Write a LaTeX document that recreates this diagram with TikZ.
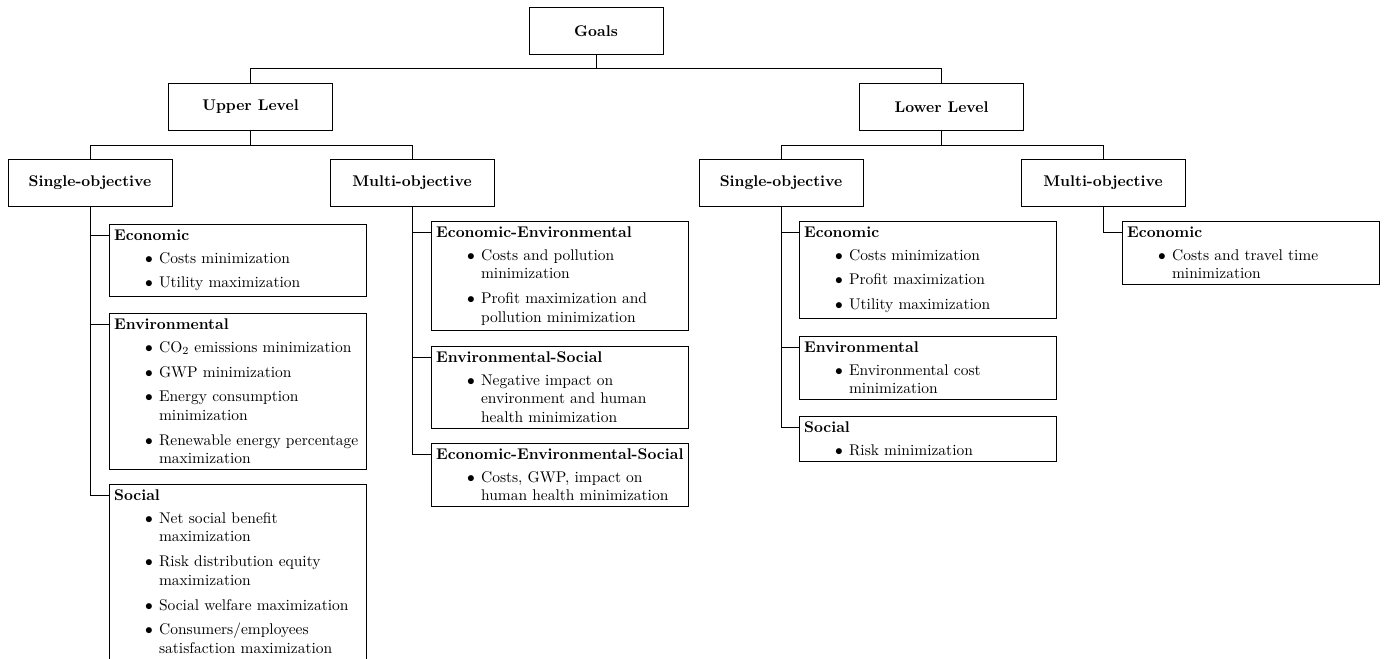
\documentclass[tikz,border=0pt]{standalone}
\usepackage{enumitem}
\usetikzlibrary{calc}
\newcommand{\leafcontent}[2]{\mbox{\textbf{#1}}\par\vspace{2.5pt}%
  \begin{itemize}[label=$\bullet$,leftmargin=29pt,labelsep=4pt,topsep=0pt,partopsep=0pt,parsep=0pt,itemsep=4pt]#2\end{itemize}}
\tikzset{
  lvlbox/.style={draw, line width=0.6pt, minimum width=105.8pt, minimum height=30.3pt, font=\bfseries},
  goalbox/.style={lvlbox, minimum width=86.5pt},
  leafbox/.style={draw, line width=0.6pt, anchor=north west, text width=160pt, inner xsep=3pt, inner ysep=3.6pt, align=left},
  link/.style={line width=0.6pt}
}
\begin{document}
\begin{tikzpicture}[x=0.6452pt,y=-0.6452pt]
\useasboundingbox (0,0) rectangle (1385,659);
% top levels
\node[goalbox] (goals) at (596,31) {Goals};
\node[lvlbox] (upper) at (250.5,107) {Upper Level};
\node[lvlbox] (lower) at (941.5,107) {Lower Level};
\node[lvlbox] (singleU) at (90,183) {Single-objective};
\node[lvlbox] (multiU) at (412,183) {Multi-objective};
\node[lvlbox] (singleL) at (781,183) {Single-objective};
\node[lvlbox] (multiL) at (1103,183) {Multi-objective};
% leaves upper single
\node[leafbox] (ueco) at (109,224) {\leafcontent{Economic}{\item Costs minimization \item Utility maximization}};
\node[leafbox] (uenv) at (109,313) {\leafcontent{Environmental}{\item CO$_2$ emissions minimization \item GWP minimization \item Energy consumption minimization \item Renewable energy percentage maximization}};
\node[leafbox] (usoc) at (109,484) {\leafcontent{Social}{\item Net social benefit maximization \item Risk distribution equity maximization \item Social welfare maximization \item Consumers/employees satisfaction maximization}};
% leaves upper multi
\node[leafbox] (mee) at (431,221) {\leafcontent{Economic-Environmental}{\item Costs and pollution minimization \item Profit maximization and pollution minimization}};
\node[leafbox] (mes) at (431,346) {\leafcontent{Environmental-Social}{\item Negative impact on environment and human health minimization}};
\node[leafbox] (mees) at (431,443) {\leafcontent{Economic-Environmental-Social}{\item Costs, GWP, impact on human health minimization}};
% leaves lower single
\node[leafbox] (leco) at (799,221) {\leafcontent{Economic}{\item Costs minimization \item Profit maximization \item Utility maximization}};
\node[leafbox] (lenv) at (799,336) {\leafcontent{Environmental}{\item Environmental cost minimization}};
\node[leafbox] (lsoc) at (799,416) {\leafcontent{Social}{\item Risk minimization}};
% leaves lower multi
\node[leafbox] (lmeco) at (1122,221) {\leafcontent{Economic}{\item Costs and travel time minimization}};
% tree connectors
\draw[link] (goals.south) -- ++(0,14) -| (upper.north);
\draw[link] (goals.south) -- ++(0,14) -| (lower.north);
\draw[link] (upper.south) -- ++(0,14.5) -| (singleU.north);
\draw[link] (upper.south) -- ++(0,14.5) -| (multiU.north);
\draw[link] (lower.south) -- ++(0,14.5) -| (singleL.north);
\draw[link] (lower.south) -- ++(0,14.5) -| (multiL.north);
% leaf connectors
\foreach \p/\c in {singleU/ueco, singleU/uenv, singleU/usoc, multiU/mee, multiU/mes, multiU/mees, singleL/leco, singleL/lenv, singleL/lsoc, multiL/lmeco}{
  \coordinate (\c-in) at ($(\c.north west)+(0,11.5)$);
  \draw[link] (\p.south) |- (\c-in);
}
\end{tikzpicture}
\end{document}
